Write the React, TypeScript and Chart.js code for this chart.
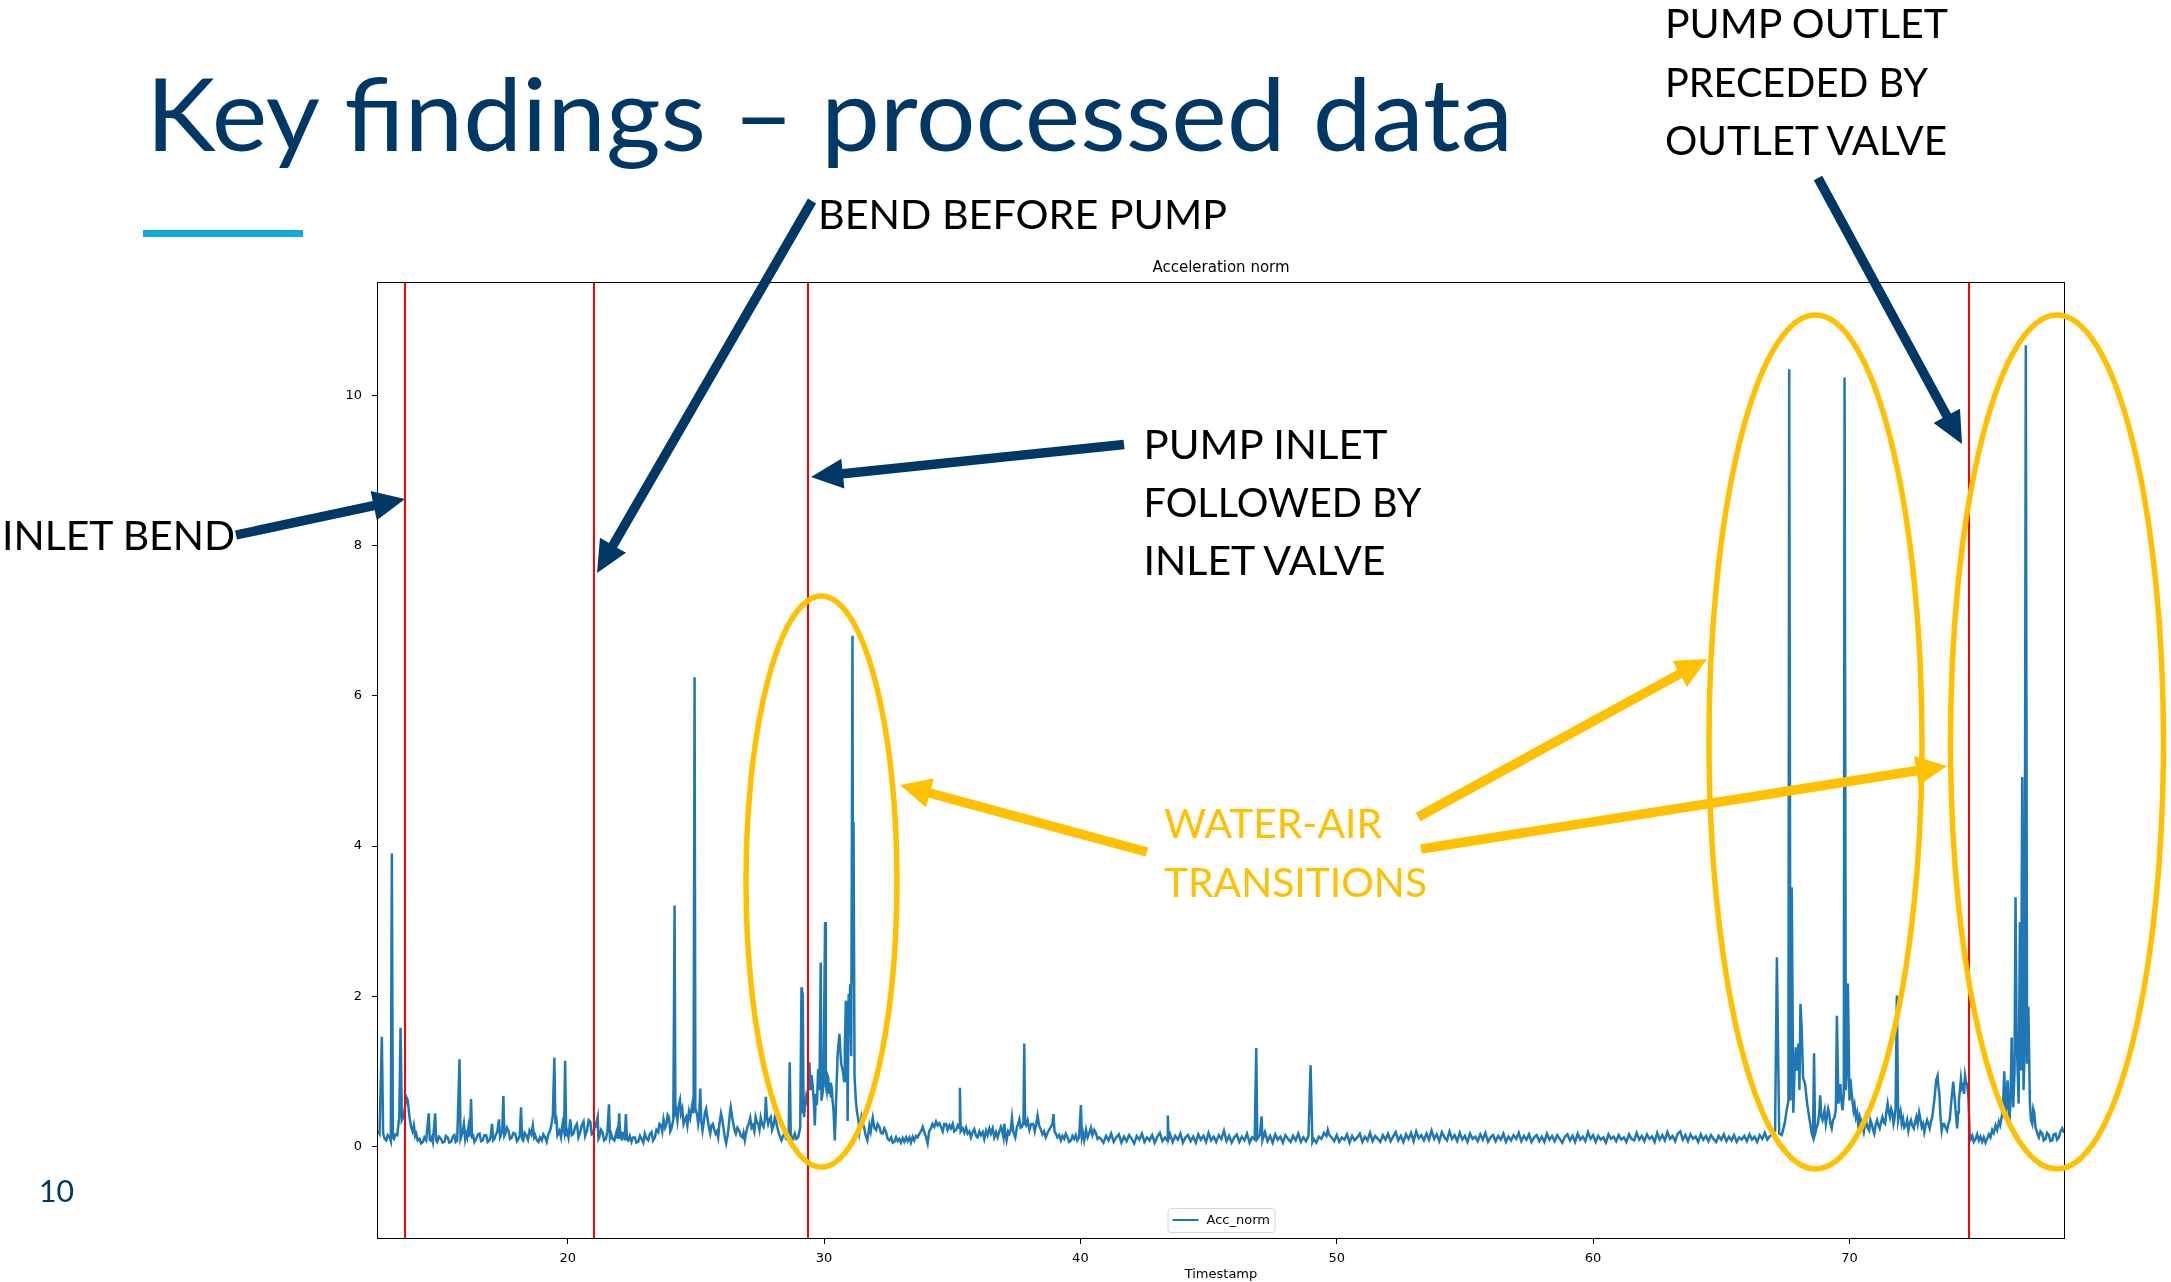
import React, { useEffect, useRef } from "react";
import { Chart, registerables } from "chart.js";

Chart.register(...registerables);

// ---------------- data ----------------
const xTicks = [20, 30, 40, 50, 60, 70];
const yTicks = [0, 2, 4, 6, 8, 10];
const xRange = [12.6, 78.37];
const yRange = [-1.22, 11.5];
const seriesLabel = "Acc_norm";
const chartTitle = "Acceleration norm";
const xAxisTitle = "Timestamp";
// red vertical event markers (Timestamp)
const markerLines = [13.66, 21.04, 29.38, 74.68];

// [Timestamp, Acc_norm]
const accNorm: [number, number][] = [
  [12.6,.21],[12.66,.17],[12.75,1.46],[12.8,.17],[12.86,.1],[12.92,.08],[12.98,.15],[13.05,.12],[13.1,.07],[13.14,3.9],[13.18,.12],[13.22,.1],[13.28,.16],[13.35,.15],[13.43,.39],[13.48,1.58],[13.53,.35],[13.61,.41],[13.7,.66],[13.76,.61],[13.83,.39],[13.89,.26],[13.95,.2],[14.0,.28],[14.05,.14],[14.09,.17],[14.15,.08],[14.22,.1],[14.28,.04],[14.35,.06],[14.41,.12],[14.48,.08],[14.58,.44],[14.62,.09],[14.65,.08],[14.7,.12],[14.74,.06],[14.83,.44],[14.87,.08],[14.91,.06],[14.98,.13],[15.06,.1],[15.12,.05],[15.19,.06],[15.25,.14],[15.32,.12],[15.38,.05],[15.45,.06],[15.52,.13],[15.58,.15],[15.63,.06],[15.69,.08],[15.78,1.16],[15.82,.1],[15.84,.12],[15.9,.2],[15.95,.3],[16.0,.1],[16.04,.17],[16.08,.12],[16.13,.26],[16.18,.13],[16.23,.63],[16.27,.12],[16.3,.17],[16.36,.06],[16.43,.1],[16.5,.16],[16.56,.17],[16.62,.07],[16.69,.08],[16.75,.15],[16.82,.15],[16.88,.06],[16.95,.08],[17.0,.14],[17.05,.3],[17.09,.08],[17.14,.1],[17.2,.16],[17.25,.19],[17.32,.36],[17.36,.12],[17.4,.15],[17.45,.22],[17.49,.67],[17.53,.14],[17.57,.17],[17.63,.25],[17.69,.21],[17.75,.1],[17.82,.12],[17.88,.18],[17.95,.17],[18.02,.07],[18.08,.1],[18.13,.15],[18.18,.52],[18.22,.1],[18.26,.08],[18.32,.18],[18.38,.15],[18.45,.09],[18.51,.21],[18.58,.16],[18.64,.28],[18.69,.12],[18.73,.15],[18.8,.08],[18.86,.06],[18.92,.12],[18.99,.08],[19.05,.16],[19.12,.12],[19.18,.06],[19.25,.17],[19.3,.2],[19.35,.26],[19.42,.41],[19.48,1.18],[19.52,.3],[19.55,.41],[19.6,.15],[19.68,.21],[19.74,.12],[19.8,.3],[19.86,.2],[19.9,1.14],[19.94,.15],[19.97,.21],[20.03,.12],[20.1,.36],[20.16,.15],[20.23,.17],[20.29,.26],[20.36,.3],[20.42,.12],[20.49,.19],[20.55,.28],[20.62,.33],[20.68,.14],[20.75,.21],[20.82,.35],[20.88,.33],[20.94,.16],[21.01,.17],[21.06,.3],[21.1,.28],[21.17,.39],[21.2,.1],[21.23,.12],[21.3,.22],[21.36,.19],[21.42,.08],[21.49,.1],[21.55,.2],[21.61,.56],[21.65,.12],[21.69,.17],[21.75,.1],[21.82,.08],[21.87,.15],[21.92,.21],[21.96,.1],[22.01,.44],[22.05,.12],[22.1,.1],[22.14,.18],[22.18,.17],[22.22,.08],[22.27,.43],[22.31,.1],[22.36,.08],[22.42,.14],[22.49,.06],[22.55,.12],[22.62,.12],[22.68,.05],[22.75,.06],[22.82,.14],[22.88,.1],[22.95,.05],[23.01,.17],[23.08,.1],[23.14,.08],[23.2,.16],[23.27,.19],[23.33,.08],[23.4,.12],[23.46,.22],[23.53,.19],[23.58,.3],[23.64,.28],[23.69,.2],[23.74,.36],[23.8,.25],[23.85,.3],[23.9,.42],[23.95,.39],[24.0,.2],[24.05,.24],[24.12,.36],[24.17,3.21],[24.2,.45],[24.23,.48],[24.28,.35],[24.33,.55],[24.38,.62],[24.42,.44],[24.47,.5],[24.52,.3],[24.57,.35],[24.62,.39],[24.67,.28],[24.73,.46],[24.78,.38],[24.83,.5],[24.88,.6],[24.91,.44],[24.95,6.25],[24.98,.5],[25.0,.48],[25.05,.42],[25.09,.3],[25.13,.4],[25.17,.77],[25.21,.35],[25.26,.21],[25.3,.3],[25.35,.44],[25.4,.5],[25.46,.36],[25.51,.25],[25.56,.17],[25.61,.28],[25.66,.3],[25.72,.22],[25.77,.17],[25.82,.2],[25.87,.12],[25.92,.3],[25.98,.44],[26.03,.36],[26.08,.24],[26.13,.12],[26.18,.04],[26.24,.15],[26.29,.3],[26.33,.45],[26.36,.52],[26.41,.4],[26.46,.3],[26.51,.22],[26.56,.17],[26.62,.25],[26.69,.21],[26.75,.14],[26.82,.12],[26.86,.18],[26.91,.08],[26.96,.18],[27.01,.26],[27.06,.3],[27.12,.38],[27.17,.25],[27.22,.28],[27.28,.2],[27.33,.39],[27.38,.32],[27.43,.3],[27.48,.22],[27.53,.38],[27.58,.3],[27.64,.26],[27.69,.35],[27.73,.66],[27.77,.4],[27.82,.3],[27.87,.36],[27.92,.39],[27.97,.22],[28.03,.28],[28.08,.38],[28.13,.33],[28.18,.25],[28.24,.17],[28.29,.12],[28.34,.08],[28.4,.14],[28.47,.17],[28.52,.1],[28.57,.1],[28.62,.16],[28.66,1.12],[28.7,.2],[28.73,.12],[28.8,.1],[28.86,.17],[28.92,.1],[28.99,.12],[29.03,.18],[29.07,.26],[29.12,2.12],[29.14,.44],[29.17,2.05],[29.2,.5],[29.22,.39],[29.26,.55],[29.3,.66],[29.34,.6],[29.38,.79],
  [29.43,1.12],[29.47,.75],[29.51,.95],[29.55,.84],[29.6,.6],[29.64,.28],[29.68,.7],[29.72,.55],[29.77,1.03],[29.82,.75],[29.87,2.45],[29.9,.61],[29.94,.7],[29.98,.87],[30.04,2.99],[30.07,.8],[30.1,.74],[30.13,.95],[30.16,.92],[30.2,.7],[30.24,.85],[30.27,.65],[30.3,.8],[30.33,.62],[30.37,.48],[30.42,.08],[30.47,.61],[30.53,1.23],[30.6,1.5],[30.64,1.25],[30.67,1.1],[30.73,1.01],[30.78,.87],[30.81,1.3],[30.85,1.94],[30.89,1.81],[30.92,.34],[30.96,2.03],[31.0,1.9],[31.02,2.16],[31.06,1.2],[31.11,6.8],[31.13,2.2],[31.15,4.32],[31.19,.92],[31.24,.62],[31.27,.5],[31.3,.43],[31.34,.35],[31.38,.2],[31.42,.3],[31.46,.39],[31.51,.3],[31.56,.26],[31.62,.15],[31.69,.08],[31.74,.2],[31.77,.28],
  [31.82,.2],[31.86,.3],[31.9,.38],[31.96,.25],[32.03,.22],[32.09,.3],[32.16,.26],[32.22,.18],[32.29,.17],[32.35,.24],[32.42,.19],[32.48,.1],[32.55,.08],[32.62,.12],[32.68,.05],[32.74,.06],[32.81,.12],[32.87,.07],[32.94,.1],[33.0,.05],[33.07,.11],[33.13,.06],[33.2,.12],[33.26,.07],[33.33,.12],[33.39,.05],[33.46,.13],[33.52,.08],[33.59,.14],[33.65,.12],[33.72,.17],[33.78,.2],[33.85,.26],[33.92,.18],[33.98,.12],[34.04,.04],[34.1,.2],[34.17,.24],[34.23,.3],[34.3,.26],[34.37,.33],[34.43,.28],[34.5,.31],[34.56,.26],[34.63,.2],[34.69,.3],[34.76,.3],[34.82,.22],[34.89,.28],[34.95,.24],[35.02,.3],[35.08,.2],[35.15,.22],[35.22,.28],[35.27,.25],[35.3,.78],[35.33,.2],[35.41,.24],[35.47,.18],[35.54,.25],[35.6,.17],[35.67,.2],[35.73,.12],[35.8,.19],[35.86,.23],[35.93,.14],[35.99,.12],[36.06,.2],[36.12,.15],[36.19,.19],[36.25,.1],[36.32,.21],[36.38,.15],[36.45,.24],[36.51,.17],[36.58,.24],[36.64,.12],[36.71,.19],[36.77,.12],[36.84,.2],[36.9,.26],[36.94,.22],[37.0,.12],[37.03,.3],[37.08,.15],[37.12,.08],[37.18,.2],[37.23,.17],[37.28,.22],[37.33,.38],[37.38,.2],[37.46,.12],[37.52,.25],[37.57,.3],[37.62,.36],[37.67,.25],[37.72,.26],[37.78,.32],[37.81,1.37],[37.84,.3],[37.88,.28],[37.94,.35],[38.01,.22],[38.08,.3],[38.16,.3],[38.22,.2],[38.28,.3],[38.33,.41],[38.39,.28],[38.46,.22],[38.52,.16],[38.58,.2],[38.65,.12],[38.72,.18],[38.78,.22],[38.85,.26],[38.91,.3],[38.95,.43],[38.99,.2],[39.04,.17],[39.1,.12],[39.17,.15],[39.24,.08],[39.3,.14],[39.37,.1],[39.43,.17],[39.5,.12],[39.56,.06],[39.63,.08],[39.69,.14],[39.76,.1],[39.82,.15],[39.88,.08],[39.95,.12],[40.02,.55],[40.06,.12],[40.1,.18],[40.15,.08],[40.22,.22],[40.28,.12],[40.34,.17],[40.41,.25],[40.47,.15],[40.54,.22],[40.6,.18],[40.67,.1],[40.73,.12],
  [40.8,.1],[40.9,.05],[41.0,.14],[41.1,.08],[41.2,.17],[41.3,.06],[41.4,.12],[41.5,.16],[41.6,.05],[41.7,.13],[41.8,.07],[41.9,.15],[42.0,.1],[42.1,.04],[42.2,.14],[42.3,.09],[42.4,.17],[42.5,.06],[42.6,.12],[42.7,.08],[42.8,.15],[42.9,.05],[43.0,.13],[43.1,.18],[43.2,.07],[43.3,.12],[43.38,.08],[43.41,.41],[43.44,.1],[43.5,.16],[43.6,.06],[43.7,.14],[43.8,.09],[43.9,.17],[44.0,.05],[44.1,.12],[44.2,.15],[44.3,.07],[44.4,.13],[44.5,.05],[44.6,.16],[44.7,.09],[44.8,.14],[44.9,.06],[45.0,.18],[45.1,.08],[45.2,.13],[45.3,.06],[45.4,.15],[45.5,.1],[45.6,.21],[45.7,.07],[45.8,.14],[45.9,.05],[46.0,.12],[46.1,.16],[46.2,.06],[46.3,.13],[46.4,.08],[46.5,.17],[46.6,.05],[46.7,.12],[46.8,.09],[46.86,1.31],[46.9,.1],[47.0,.15],[47.07,.4],[47.1,.08],[47.2,.19],[47.3,.07],[47.4,.14],[47.5,.05],[47.6,.16],[47.7,.09],[47.8,.13],[47.9,.05],[48.0,.15],[48.1,.1],[48.2,.06],[48.3,.14],[48.4,.08],[48.5,.17],[48.6,.06],[48.7,.12],[48.8,.07],[48.9,.14],[48.98,1.08],[49.05,.06],[49.1,.1],[49.2,.05],[49.3,.13],[49.4,.1],[49.5,.18],[49.6,.14],[49.65,.22],[49.7,.16],[49.8,.12],[49.9,.07],[50.0,.15],[50.1,.06],[50.2,.12],[50.3,.09],[50.4,.16],[50.5,.05],[50.6,.14],[50.7,.08],[50.8,.12],[50.9,.17],[51.0,.06],[51.1,.13],[51.2,.08],[51.3,.18],[51.4,.07],[51.5,.14],[51.6,.1],[51.7,.06],[51.8,.15],[51.9,.09],[52.0,.17],[52.1,.07],[52.2,.13],[52.3,.19],[52.4,.08],[52.5,.14],[52.6,.06],[52.7,.16],[52.8,.1],[52.9,.18],[53.0,.07],[53.1,.2],[53.2,.11],[53.3,.15],[53.4,.08],[53.5,.17],[53.6,.09],[53.7,.21],[53.8,.1],[53.9,.16],[54.0,.07],[54.1,.19],[54.2,.12],[54.3,.08],[54.4,.2],[54.5,.1],[54.6,.15],[54.7,.07],[54.8,.18],[54.9,.09],[55.0,.14],[55.1,.06],[55.2,.17],[55.3,.1],[55.4,.13],[55.5,.07],[55.6,.16],[55.7,.09],[55.8,.18],[55.9,.06],[56.0,.12],[56.1,.15],[56.2,.07],[56.3,.14],[56.4,.09],[56.5,.17],[56.6,.06],[56.7,.13],[56.8,.08],[56.9,.15],[57.0,.1],[57.1,.18],[57.2,.07],[57.3,.14],[57.4,.09],[57.5,.16],[57.6,.06],[57.7,.12],[57.8,.15],[57.9,.07],[58.0,.13],[58.1,.06],[58.2,.17],[58.3,.09],[58.4,.14],[58.5,.07],[58.6,.15],[58.7,.1],[58.8,.05],[58.9,.13],[59.0,.16],[59.1,.08],[59.2,.14],[59.3,.06],[59.4,.17],[59.5,.09],[59.6,.13],[59.7,.07],[59.8,.19],[59.9,.1],[60.0,.15],[60.1,.06],[60.2,.14],[60.3,.09],[60.4,.12],[60.5,.05],[60.6,.16],[60.7,.1],[60.8,.13],[60.9,.07],[61.0,.15],[61.1,.09],[61.2,.12],[61.3,.06],[61.4,.16],[61.5,.1],[61.6,.08],[61.7,.18],[61.8,.09],[61.9,.14],[62.0,.07],[62.1,.16],[62.2,.1],[62.3,.13],[62.4,.06],[62.5,.18],[62.6,.09],[62.7,.15],[62.8,.08],[62.9,.19],[63.0,.1],[63.1,.14],[63.2,.07],[63.3,.17],[63.4,.2],[63.5,.09],[63.6,.15],[63.7,.07],[63.8,.16],[63.9,.1],[64.0,.13],[64.1,.06],[64.2,.16],[64.3,.09],[64.4,.14],[64.5,.07],[64.6,.15],[64.7,.1],[64.8,.06],[64.9,.14],[65.0,.09],[65.1,.16],[65.2,.07],[65.3,.13],[65.4,.08],[65.5,.15],[65.6,.06],[65.7,.12],[65.8,.09],[65.9,.14],[66.0,.07],[66.1,.16],[66.2,.09],[66.3,.13],[66.4,.06],[66.5,.15],[66.6,.1],[66.7,.18],[66.8,.09],[66.9,.14],[66.97,.15],[67.03,.2],
  [67.1,.21],[67.17,2.52],[67.26,.17],[67.36,.15],[67.47,.3],[67.56,.5],[67.62,.61],[67.65,10.35],[67.7,.61],[67.75,3.45],[67.81,.45],[67.86,1.01],[67.91,1.32],[67.96,1.01],[68.01,1.37],[68.05,.75],[68.09,1.9],[68.14,1.54],[68.19,.92],[68.27,.83],[68.35,.57],[68.43,.39],[68.53,.17],[68.58,.12],[68.62,1.24],[68.66,.17],[68.72,.25],[68.77,.3],[68.82,.45],[68.86,.68],[68.9,.4],[68.95,.35],[69.03,.48],[69.08,.3],[69.12,.39],[69.17,.5],[69.21,.44],[69.26,.3],[69.31,.24],[69.36,.35],[69.42,.39],[69.47,.5],[69.51,1.74],[69.57,.57],[69.61,.7],[69.65,.83],[69.69,.6],[69.73,.48],[69.78,.7],[69.81,10.24],[69.86,.75],[69.9,1.0],[69.94,2.17],[70.0,.61],[70.04,.9],[70.07,.77],[70.12,.6],[70.16,.48],[70.2,.55],[70.25,.39],[70.3,.45],[70.35,.26],[70.4,.4],[70.45,.35],[70.5,.28],[70.56,.19],[70.61,.3],[70.66,.33],[70.71,.25],[70.77,.21],[70.82,.35],[70.87,.3],[70.92,.22],[70.97,.17],[71.03,.3],[71.08,.35],[71.13,.28],[71.18,.24],[71.24,.33],[71.29,.39],[71.34,.32],[71.39,.3],[71.44,.45],[71.49,.57],[71.54,.45],[71.58,.39],[71.63,.5],[71.68,.44],[71.72,.3],[71.75,.35],[71.8,.5],[71.85,2.01],[71.9,.35],[71.94,.42],[71.99,.48],[72.04,.3],[72.09,.37],[72.14,.25],[72.2,.28],[72.25,.35],[72.3,.21],[72.35,.3],[72.4,.35],[72.45,.28],[72.51,.24],[72.56,.32],[72.61,.39],[72.66,.3],[72.72,.45],[72.77,.36],[72.82,.26],[72.87,.3],[72.92,.19],[72.97,.28],[73.03,.35],[73.08,.3],[73.13,.24],[73.18,.33],[73.23,.39],[73.27,.5],[73.31,.61],[73.35,.75],[73.38,.88],[73.44,.94],[73.47,.8],[73.51,.7],[73.55,.4],[73.6,.21],[73.65,.3],[73.7,.3],[73.75,.25],[73.81,.21],[73.86,.3],[73.91,.35],[73.95,.5],[73.99,.66],[74.05,.86],[74.09,.7],[74.12,.57],[74.16,.4],[74.2,.24],[74.24,.45],[74.27,.61],[74.31,.75],[74.35,.9],[74.39,.78],[74.43,.81],[74.47,.7],[74.51,.94],[74.55,.85],[74.59,.83],[74.64,.66],
  [74.69,.17],[74.74,.1],[74.79,.14],[74.85,.06],[74.92,.1],[74.98,.16],[75.05,.08],[75.11,.13],[75.18,.06],[75.24,.12],[75.31,.05],[75.37,.1],[75.44,.16],[75.5,.12],[75.57,.22],[75.63,.18],[75.7,.28],[75.76,.22],[75.83,.33],[75.88,.28],[75.94,.39],[75.99,.5],[76.04,1.0],[76.09,.44],[76.13,.6],[76.17,.88],[76.21,.5],[76.24,.3],[76.28,.6],[76.33,1.45],[76.36,.8],[76.39,.52],[76.44,1.0],[76.48,3.32],[76.52,1.5],[76.55,1.14],[76.6,.57],[76.65,2.99],[76.69,1.01],[76.74,4.92],[76.79,.75],[76.83,1.2],[76.88,10.67],[76.93,1.1],[76.98,1.86],[77.04,.57],[77.08,.35],[77.13,.3],[77.17,.5],[77.21,.45],[77.26,.25],[77.3,.21],[77.35,.15],[77.39,.12],[77.45,.2],[77.52,.17],[77.58,.08],[77.65,.1],[77.71,.18],[77.78,.15],[77.84,.07],[77.91,.08],[77.97,.16],[78.04,.17],[78.1,.09],[78.17,.12],[78.23,.2],[78.3,.24],[78.37,.18],
];

// ---------------- slide styling / annotations ----------------
const NAVY = "#003865";
const GOLD = "#FFC000";
const BLUE = "#1f77b4";

type SlideText = { text: string; x: number; y: number; size: number; len: number; color: string };
const slideTexts: SlideText[] = [
  { text: "Key findings \u2013 processed data", x: 146, y: 150.5, size: 101.5, len: 1367, color: NAVY },
  { text: "BEND BEFORE PUMP", x: 818, y: 229.3, size: 41, len: 409, color: "#000" },
  { text: "INLET BEND", x: 2, y: 549.5, size: 41, len: 233, color: "#000" },
  { text: "PUMP INLET", x: 1143.5, y: 459.3, size: 41, len: 244, color: "#000" },
  { text: "FOLLOWED BY", x: 1143.5, y: 516.7, size: 41, len: 278, color: "#000" },
  { text: "INLET VALVE", x: 1143.5, y: 575, size: 41, len: 242, color: "#000" },
  { text: "PUMP OUTLET", x: 1665, y: 38.3, size: 41, len: 283, color: "#000" },
  { text: "PRECEDED BY", x: 1665, y: 96.7, size: 41, len: 263, color: "#000" },
  { text: "OUTLET VALVE", x: 1665, y: 155, size: 41, len: 282, color: "#000" },
  { text: "WATER-AIR", x: 1164, y: 838.3, size: 41, len: 218, color: GOLD },
  { text: "TRANSITIONS", x: 1164, y: 896.7, size: 41, len: 263, color: GOLD },
  { text: "10", x: 39, y: 1201.8, size: 30, len: 35, color: NAVY },
];

const ellipses = [
  { cx: 821.5, cy: 881.5, rx: 75.5, ry: 285.5 },
  { cx: 1815.5, cy: 742, rx: 106.5, ry: 427 },
  { cx: 2057, cy: 742, rx: 106.5, ry: 427 },
];

// [startX, startY, tipX, tipY]
const navyArrows = [
  [236, 535, 405, 499],
  [812, 201, 597, 573],
  [1124, 444.5, 811, 477],
  [1818, 178, 1962, 444],
];
const goldArrows = [
  [1147, 852, 900, 785],
  [1418, 817, 1707, 659],
  [1421, 849, 1947, 766],
];

function arrowPoints(a: number[], w = 9.5, L = 31, H = 15): string {
  const [sx, sy, tx, ty] = a;
  const dx = tx - sx, dy = ty - sy;
  const len = Math.hypot(dx, dy);
  const ux = dx / len, uy = dy / len;
  const px = -uy, py = ux;
  const bx = tx - ux * L, by = ty - uy * L;
  const pts = [
    [sx + (px * w) / 2, sy + (py * w) / 2],
    [bx + (px * w) / 2, by + (py * w) / 2],
    [bx + px * H, by + py * H],
    [tx, ty],
    [bx - px * H, by - py * H],
    [bx - (px * w) / 2, by - (py * w) / 2],
    [sx - (px * w) / 2, sy - (py * w) / 2],
  ];
  return pts.map((p) => p[0].toFixed(1) + "," + p[1].toFixed(1)).join(" ");
}

const mplFrame = {
  id: "mplFrame",
  afterDatasetsDraw(chart: any) {
    const { ctx, chartArea: a, scales } = chart;
    const xs = scales.x;
    ctx.save();
    // red vertical markers
    ctx.strokeStyle = "#ff0000";
    ctx.lineWidth = 2;
    markerLines.forEach((v) => {
      const px = Math.round(xs.getPixelForValue(v));
      ctx.beginPath();
      ctx.moveTo(px, a.top);
      ctx.lineTo(px, a.bottom);
      ctx.stroke();
    });
    // axes frame
    ctx.strokeStyle = "#000";
    ctx.lineWidth = 1;
    ctx.strokeRect(a.left - 0.5, a.top - 0.5, a.right - a.left + 1, a.bottom - a.top + 1);
    // legend (lower center, inside axes)
    const w = 107, h = 24;
    const bx = (a.left + a.right) / 2 - w / 2;
    const by = a.bottom - 6 - h;
    ctx.fillStyle = "rgba(255,255,255,0.8)";
    ctx.strokeStyle = "#d6d6d6";
    ctx.beginPath();
    (ctx as any).roundRect(bx + 0.5, by + 0.5, w, h, 3);
    ctx.fill();
    ctx.stroke();
    ctx.strokeStyle = BLUE;
    ctx.lineWidth = 2;
    ctx.beginPath();
    ctx.moveTo(bx + 5, by + h / 2);
    ctx.lineTo(bx + 31, by + h / 2);
    ctx.stroke();
    ctx.fillStyle = "#000";
    ctx.font = '13px "DejaVu Sans"';
    ctx.textBaseline = "middle";
    ctx.textAlign = "left";
    ctx.fillText(chart.data.datasets[0].label, bx + 39, by + h / 2 + 0.5);
    ctx.restore();
  },
};

const tickFont = { family: "DejaVu Sans", size: 13 };

export default function App() {
  const canvasRef = useRef<HTMLCanvasElement>(null);

  useEffect(() => {
    const canvas = canvasRef.current;
    if (!canvas) return;
    const chart = new Chart(canvas, {
      type: "line",
      data: {
        datasets: [
          {
            label: seriesLabel,
            data: accNorm.map(([x, y]) => ({ x, y })),
            borderColor: BLUE,
            backgroundColor: BLUE,
            borderWidth: 2.5,
            pointRadius: 0,
            tension: 0,
            fill: false,
          },
        ],
      },
      options: {
        responsive: false,
        animation: false,
        devicePixelRatio: 1,
        events: [],
        layout: { padding: { left: 318, right: 107, top: 259, bottom: 0 } },
        scales: {
          x: {
            type: "linear",
            min: xRange[0],
            max: xRange[1],
            afterBuildTicks: (s: any) => {
              s.ticks = xTicks.map((value) => ({ value }));
            },
            afterFit: (s: any) => {
              s.height = 44;
            },
            grid: { display: true, drawOnChartArea: false, drawTicks: true, tickLength: 6, color: "#000", lineWidth: 1 },
            border: { display: false },
            ticks: { color: "#000", font: tickFont, padding: 7, maxRotation: 0, autoSkip: false },
            title: { display: true, text: xAxisTitle, color: "#000", font: tickFont, padding: { top: 0, bottom: 0 } },
          },
          y: {
            type: "linear",
            min: yRange[0],
            max: yRange[1],
            afterBuildTicks: (s: any) => {
              s.ticks = yTicks.map((value) => ({ value }));
            },
            afterFit: (s: any) => {
              s.width = 60;
            },
            grid: { display: true, drawOnChartArea: false, drawTicks: true, tickLength: 6, color: "#000", lineWidth: 1 },
            border: { display: false },
            ticks: { color: "#000", font: tickFont, padding: 10, autoSkip: false },
          },
        },
        plugins: {
          legend: { display: false },
          tooltip: { enabled: false },
          title: {
            display: true,
            fullSize: false,
            text: chartTitle,
            color: "#000",
            font: { family: "DejaVu Sans", size: 15, weight: "normal", lineHeight: 1.2 },
            padding: { top: 0, bottom: 6 },
          },
        },
      } as any,
      plugins: [mplFrame],
    });
    return () => chart.destroy();
  }, []);

  return (
    <div
      style={{
        position: "fixed",
        left: 0,
        top: 0,
        width: 2171,
        height: 1282,
        background: "#ffffff",
        overflow: "hidden",
      }}
    >
      <canvas
        ref={canvasRef}
        width={2171}
        height={1282}
        style={{ position: "absolute", left: 0, top: 0, width: 2171, height: 1282 }}
      />
      <svg
        width={2171}
        height={1282}
        viewBox="0 0 2171 1282"
        style={{ position: "absolute", left: 0, top: 0, pointerEvents: "none" }}
      >
        <rect x={143} y={230} width={160} height={7} fill="#12a9e1" />
        {ellipses.map((e, i) => (
          <ellipse key={"e" + i} cx={e.cx} cy={e.cy} rx={e.rx} ry={e.ry} fill="none" stroke={GOLD} strokeWidth={5.5} />
        ))}
        {navyArrows.map((a, i) => (
          <polygon key={"n" + i} points={arrowPoints(a, 9.5, 32, 15)} fill={NAVY} />
        ))}
        {goldArrows.map((a, i) => (
          <polygon key={"g" + i} points={arrowPoints(a, 9.5, 31, 15)} fill={GOLD} />
        ))}
        {slideTexts.map((t, i) => (
          <text
            key={"t" + i}
            x={t.x}
            y={t.y}
            fill={t.color}
            fontFamily="Lato, 'Open Sans', sans-serif"
            fontSize={t.size}
            textLength={t.len}
            lengthAdjust="spacingAndGlyphs"
          >
            {t.text}
          </text>
        ))}
      </svg>
    </div>
  );
}
